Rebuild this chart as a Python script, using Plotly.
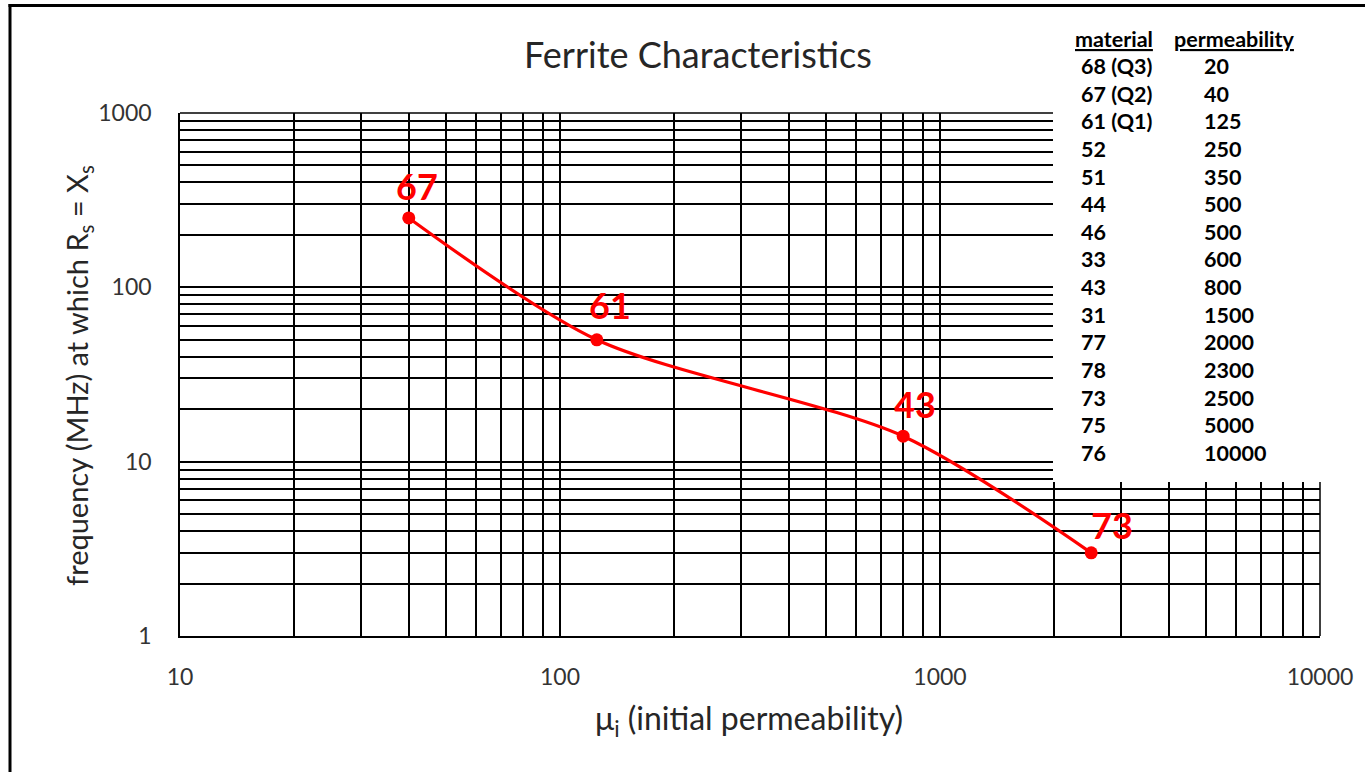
import math
import plotly.graph_objects as go

# ---------------- data ----------------
permeability = [40, 125, 800, 2500]
frequency_mhz = [250, 50, 14, 3]
point_labels = ["67", "61", "43", "73"]

table_material = ["68 (Q3)", "67 (Q2)", "61 (Q1)", "52", "51", "44", "46", "33",
                  "43", "31", "77", "78", "73", "75", "76"]
table_permeability = ["20", "40", "125", "250", "350", "500", "500", "600",
                      "800", "1500", "2000", "2300", "2500", "5000", "10000"]

x_decades = [10, 100, 1000, 10000]
y_decades = [1, 10, 100, 1000]

# ---------------- layout geometry ----------------
W, H = 1365, 772
L, R, T, B = 180, 45, 113, 136
PW, PH = W - L - R, H - T - B
FONT = "Lato"


def px(x):
    return (x - L) / PW


def py(y):
    return (H - B - y) / PH


def minor_vals(decades):
    vals = []
    for d in decades[:-1]:
        for m in range(2, 10):
            vals.append(d * m)
    return vals


fig = go.Figure()
fig.add_trace(go.Scatter(
    x=permeability, y=frequency_mhz, mode="lines+markers",
    line=dict(color="#FF0000", width=3.2, shape="spline", smoothing=0.8),
    marker=dict(color="#FF0000", size=13),
    hoverinfo="skip", showlegend=False,
))

annotations = []
# point labels
shifts = [(8, 32), (13, 35), (12, 32), (21, 28)]
for xv, yv, t, (dx, dy) in zip(permeability, frequency_mhz, point_labels, shifts):
    annotations.append(dict(x=math.log10(xv), y=math.log10(yv),
                            xref="x", yref="y", text=f"<b>{t}</b>", showarrow=False,
                            xshift=dx, yshift=dy,
                            font=dict(family=FONT, size=36, color="#FF0000")))

# table
TF = 21.5
annotations.append(dict(x=px(1073), y=py(39), xref="paper", yref="paper",
                        text="<b><u>material</u></b>", showarrow=False,
                        xanchor="left", yanchor="middle",
                        font=dict(family=FONT, size=TF, color="#000")))
annotations.append(dict(x=px(1172), y=py(39), xref="paper", yref="paper",
                        text="<b><u>permeability</u></b>", showarrow=False,
                        xanchor="left", yanchor="middle",
                        font=dict(family=FONT, size=TF, color="#000")))
for i, (m, p) in enumerate(zip(table_material, table_permeability)):
    yy = 66 + i * 27.64
    annotations.append(dict(x=px(1079), y=py(yy), xref="paper", yref="paper",
                            text=f"<b>{m}</b>", showarrow=False,
                            xanchor="left", yanchor="middle",
                            font=dict(family=FONT, size=TF, color="#000")))
    annotations.append(dict(x=px(1202), y=py(yy), xref="paper", yref="paper",
                            text=f"<b>{p}</b>", showarrow=False,
                            xanchor="left", yanchor="middle",
                            font=dict(family=FONT, size=TF, color="#000")))

# title and axis titles
annotations.append(dict(x=px(698), y=py(54), xref="paper", yref="paper",
                        text="Ferrite Characteristics", showarrow=False,
                        xanchor="center", yanchor="middle",
                        font=dict(family=FONT, size=36, color="#262626")))
annotations.append(dict(x=px(78), y=py(376), xref="paper", yref="paper",
                        text="frequency (MHz) at which R<sub>s</sub> = X<sub>s</sub>",
                        showarrow=False, textangle=-90,
                        xanchor="center", yanchor="middle",
                        font=dict(family=FONT, size=29, color="#262626")))
annotations.append(dict(x=px(749), y=py(720), xref="paper", yref="paper",
                        text="μ<sub>i</sub> (initial permeability)",
                        showarrow=False, xanchor="center", yanchor="middle",
                        font=dict(family=FONT, size=32, color="#262626")))

shapes = [
    # white panel behind the table
    dict(type="rect", xref="paper", yref="paper", layer="above",
         x0=px(1053), x1=px(1364), y0=py(482), y1=py(8),
         fillcolor="white", line=dict(width=0)),
    # plot frame edges (right and top)
    dict(type="line", xref="paper", yref="paper", layer="below",
         x0=1, x1=1, y0=0, y1=py(482), line=dict(color="black", width=1.5)),
    dict(type="line", xref="paper", yref="paper", layer="below",
         x0=0, x1=px(1053), y0=1, y1=1, line=dict(color="black", width=1.5)),
    # figure border (left and top)
    dict(type="line", xref="paper", yref="paper", layer="above",
         x0=px(10), x1=px(10), y0=py(4), y1=py(775), line=dict(color="black", width=3)),
    dict(type="line", xref="paper", yref="paper", layer="above",
         x0=px(8.5), x1=px(1366), y0=py(5.5), y1=py(5.5), line=dict(color="black", width=3)),
]

grid_common = dict(showgrid=True, gridcolor="black", gridwidth=1.5)

fig.update_layout(
    width=W, height=H,
    margin=dict(l=L, r=R, t=T, b=B, pad=0),
    paper_bgcolor="white", plot_bgcolor="white",
    font=dict(family=FONT, color="#333"),
    annotations=annotations, shapes=shapes,
    xaxis=dict(type="log", range=[1, 4], tickmode="array", tickvals=x_decades,
               ticktext=[str(v) for v in x_decades],
               minor=dict(tickmode="array", tickvals=minor_vals(x_decades), ticks="", **grid_common),
               showline=True, linecolor="black", linewidth=1.5, mirror=False,
               ticks="", zeroline=False, ticklabelstandoff=20,
               tickfont=dict(family=FONT, size=23, color="#333"), **grid_common),
    yaxis=dict(type="log", range=[0, 3], tickmode="array", tickvals=y_decades,
               ticktext=[str(v) for v in y_decades],
               minor=dict(tickmode="array", tickvals=minor_vals(y_decades), ticks="", **grid_common),
               showline=True, linecolor="black", linewidth=1.5, mirror=False,
               ticks="", zeroline=False, ticklabelstandoff=22,
               tickfont=dict(family=FONT, size=23, color="#333"), **grid_common),
)

fig.write_html("out.html")
